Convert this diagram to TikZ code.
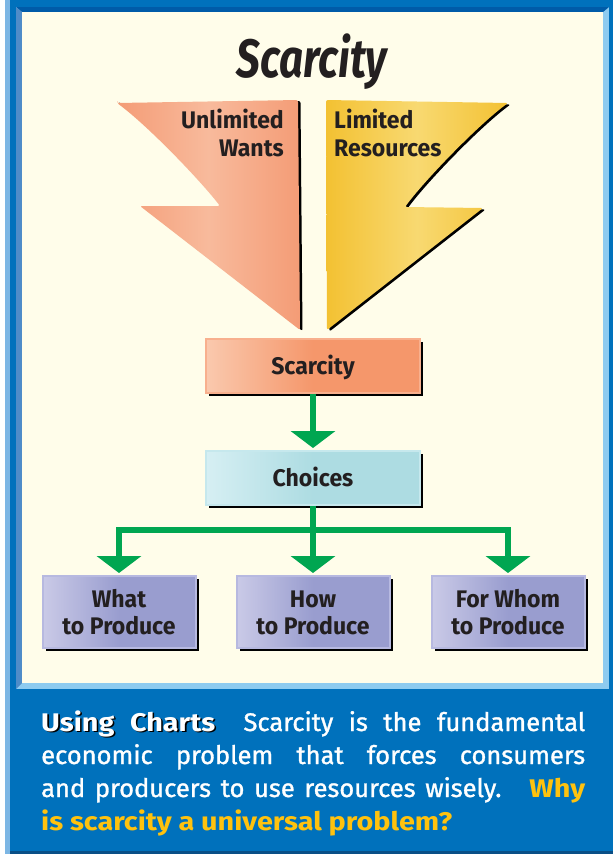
\documentclass[tikz,border=0pt]{standalone}
\usepackage{fontspec}
\setmainfont{Fira Sans}
\newfontfamily\condfont[FakeStretch=0.96]{Fira Sans}
\newfontfamily\ttlfont[FakeStretch=0.78]{Fira Sans}
\newfontfamily\capfont[FakeBold=1.2]{Fira Sans}
\newfontfamily\capbold[FakeStretch=1.13]{Fira Sans}
\usetikzlibrary{arrows.meta,shadows}
\definecolor{frameblue}{HTML}{0071BC}
\definecolor{stripblue}{HTML}{7CB6E4}
\definecolor{bevtop}{HTML}{005BA8}
\definecolor{bevleft}{HTML}{4F8CC8}
\definecolor{bevlight}{HTML}{8DCBF0}
\definecolor{bottomline}{HTML}{0A4F86}
\definecolor{cream}{HTML}{FFFDEA}
\definecolor{ink}{HTML}{231F20}
\definecolor{salmon}{HTML}{F49C76}
\definecolor{salmonlt}{HTML}{F8BA9C}
\definecolor{gold}{HTML}{F3C132}
\definecolor{goldlt}{HTML}{F8D971}
\definecolor{boxsal}{HTML}{F5976B}
\definecolor{boxsallt}{HTML}{FAC9AE}
\definecolor{boxsalrim}{HTML}{F8B08E}
\definecolor{cyanbox}{HTML}{ADDCE2}
\definecolor{cyanlt}{HTML}{D6EFF3}
\definecolor{cyanrim}{HTML}{C6E8ED}
\definecolor{lav}{HTML}{999DCF}
\definecolor{lavlt}{HTML}{CACAE7}
\definecolor{lavrim}{HTML}{B7B9E0}
\definecolor{flowgreen}{HTML}{00A651}
\definecolor{capyellow}{HTML}{FFC20E}
\newcommand{\shadowtext}[1]{\rlap{\kern1.6pt\raisebox{-1.6pt}{\textcolor{black}{#1}}}#1}
\tikzset{
  boxshadow/.style={drop shadow={shadow xshift=3pt, shadow yshift=-3pt, opacity=1, fill=black}},
  flowbox/.style={rectangle, minimum width=214pt, minimum height=54pt, inner sep=0pt,
    text=ink, font=\condfont\bfseries\fontsize{24}{27}\selectfont,
    text height=17pt, text depth=0pt, line width=2pt, boxshadow},
  leafbox/.style={rectangle, minimum width=153pt, minimum height=72pt, inner sep=0pt,
    text=ink, font=\condfont\bfseries\fontsize{24}{27}\selectfont,
    text height=17pt, text depth=27pt, line width=2pt, boxshadow,
    draw=lavrim, left color=lavlt, right color=lav, middle color=lav},
  arrowlabel/.style={inner sep=0pt, text=ink, font=\condfont\bfseries\fontsize{24}{27}\selectfont},
  flow/.style={draw=flowgreen, line width=6pt, -{Triangle[width=44pt,length=17pt]}, shorten >=2pt}
}
\begin{document}
\begin{tikzpicture}[x=1pt,y=-1pt]
\useasboundingbox (0,0) rectangle (613,854);
% frame
\fill[white] (0,0) rectangle (613,854);
\fill[stripblue] (5,0) rectangle (10,854);
\fill[frameblue] (10,0) rectangle (613,854);
\fill[bottomline] (10,851) rectangle (613,854);
\fill[bevlight] (16,7) rectangle (609,689);
\fill[bevtop] (16,7) -- (609,7) -- (603,12) -- (22,12) -- cycle;
\fill[bevleft] (16,7) -- (22,12) -- (22,683) -- (16,689) -- cycle;
\fill[cream] (22,12) rectangle (603,683);
% title
\node[font=\ttlfont\bfseries\itshape\fontsize{54}{60}\selectfont, text=ink, anchor=base, inner sep=0pt] (title) at (312,77) {Scarcity};
% left arrow
\fill[black, shift={(2.5,1)}, rounded corners=2pt] (117,103) -- (298,100) -- (300,330) -- (140,206) -- (220,206) .. controls (200,180) and (147,125) .. (117,103) -- cycle;
\path[left color=salmon, right color=salmon, middle color=salmonlt, rounded corners=2pt] (117,103) -- (298,100) -- (300,330) -- (140,206) -- (220,206) .. controls (200,180) and (147,125) .. (117,103) -- cycle;
% right arrow
\fill[black, shift={(2.5,1.5)}, rounded corners=2pt] (326,100) -- (508,103) .. controls (478,125) and (424,181) .. (405,207) -- (483,208) -- (327,330) -- cycle;
\path[left color=gold, right color=gold, middle color=goldlt, rounded corners=2pt] (326,100) -- (508,103) .. controls (478,125) and (424,181) .. (405,207) -- (483,208) -- (327,330) -- cycle;
% arrow labels
\node[arrowlabel, anchor=base east] (uw1) at (284,128) {Unlimited};
\node[arrowlabel, anchor=base east] (uw2) at (284,156) {Wants};
\node[arrowlabel, anchor=base west] (lr1) at (334,128) {Limited};
\node[arrowlabel, anchor=base west] (lr2) at (334,156) {Resources};
% boxes
\node[flowbox, draw=boxsalrim, left color=boxsallt, right color=boxsal, middle color=boxsal] (scar) at (313,366) {Scarcity};
\node[flowbox, draw=cyanrim, left color=cyanlt, right color=cyanbox, middle color=cyanbox] (cho) at (313,478) {Choices};
\node[leafbox] (what) at (119,612) {\parbox[t]{150pt}{\centering What\\to Produce}};
\node[leafbox] (how) at (313,612) {\parbox[t]{150pt}{\centering How\\to Produce}};
\node[leafbox] (whom) at (508,612) {\parbox[t]{150pt}{\centering For Whom\\to Produce}};
% connectors
\coordinate (split) at (313,530);
\draw[flow] (scar.south) -- (cho.north);
\draw[flow] (cho.south) -- (how.north);
\draw[flow] (split) -| (what.north);
\draw[flow] (split) -| (whom.north);
% caption
\node[anchor=base west, inner sep=0pt, text=white] (caption) at (41,731) {\parbox[t]{544pt}{\capfont\fontsize{25.5}{33}\selectfont\hyphenpenalty=10000\exhyphenpenalty=10000\noindent
{\capbold\bfseries\shadowtext{Using} \shadowtext{Charts}}\hspace{0.5em} Scarcity is the fundamental\linebreak
economic problem that forces consumers\linebreak
and producers to use resources wisely.\hspace{0.4em} {\capbold\bfseries\color{capyellow}Why\linebreak
is scarcity a universal problem?}}};
\end{tikzpicture}
\end{document}
